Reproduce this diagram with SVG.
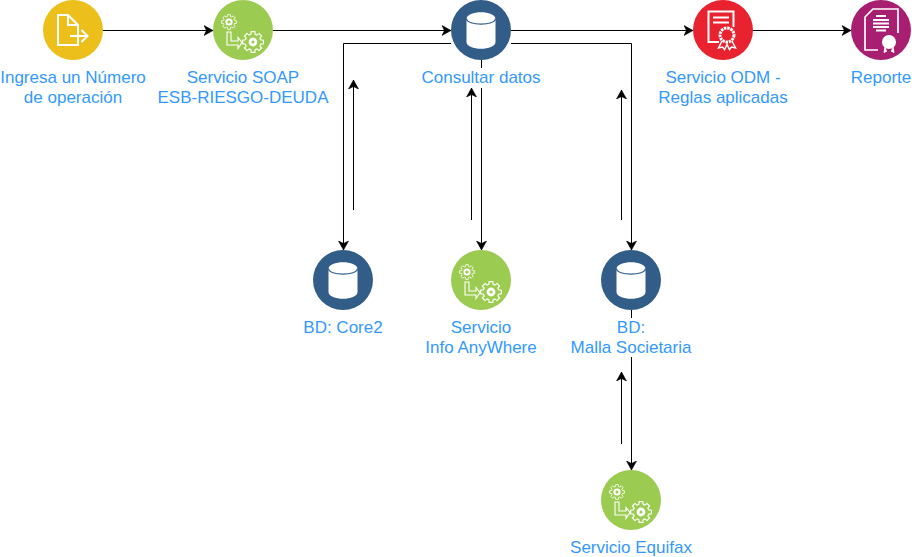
<svg xmlns="http://www.w3.org/2000/svg" xmlns:xlink="http://www.w3.org/1999/xlink" width="912" height="557" viewBox="0 0 912 557">
<style>
.c{fill:none;stroke:#000;stroke-width:1;marker-end:url(#a)}
.l{font:17px "Liberation Sans",Arial,sans-serif;fill:#3399ff;text-anchor:middle}
.w{fill:none;stroke:#fff;stroke-width:2}
.g{fill:none;stroke:#fff;stroke-width:1.1}
.db{fill:#325d88}
.sv{fill:#9ccb52}
</style>
<defs>
<marker id="a" markerUnits="userSpaceOnUse" markerWidth="11" markerHeight="12" refX="9" refY="5.500" orient="auto"><path d="M0 .5L9 5.500L0 10.500L2.500 5.500Z" fill="#000" stroke="#000" stroke-width=".6"/></marker>
<polygon id="gear" points="9.85,1.74 7.21,2.07 6.56,3.64 8.19,5.74 5.74,8.19 3.64,6.56 2.07,7.21 1.74,9.85 -1.74,9.85 -2.07,7.21 -3.64,6.56 -5.74,8.19 -8.19,5.74 -6.56,3.64 -7.21,2.07 -9.85,1.74 -9.85,-1.74 -7.21,-2.07 -6.56,-3.64 -8.19,-5.74 -5.74,-8.19 -3.64,-6.56 -2.07,-7.21 -1.74,-9.85 1.74,-9.85 2.07,-7.21 3.64,-6.56 5.74,-8.19 8.19,-5.74 6.56,-3.64 7.21,-2.07 9.85,-1.74"/>
<g id="service">
<circle r="30" class="sv"/>
<use href="#gear" class="g" transform="translate(-14 -8) scale(.75)"/>
<circle cx="-14" cy="-8" r="2.600" fill="none" stroke="#fff" stroke-width="2"/>
<use href="#gear" class="g" transform="translate(10 12) scale(1.050)"/>
<circle cx="10" cy="12" r="3" fill="none" stroke="#fff" stroke-width="2.800"/>
<path class="g" d="M-16 2V15H-5V18.500L-1 12.500L-5 7.500V11H-12V2Z"/>
</g>
<g id="database">
<circle r="30" class="db"/>
<path d="M-14.500-11C-14.500-20 14.500-20 14.500-11V12C14.500 21-14.500 21-14.500 12Z" fill="#fff"/>
<path d="M-14.500-11.500C-14.500-4 14.500-4 14.500-11.500" fill="none" stroke="#325d88" stroke-width="1.200"/>
</g>
</defs>
<rect width="912" height="557" fill="#fff"/>
<g id="connectors">
<path class="c" d="M103 30.500H213"/>
<path class="c" d="M273 30.500H451"/>
<path class="c" d="M511 30.500H693"/>
<path class="c" d="M753 30.500H851"/>
<path class="c" d="M451 43.500H343.500V250"/>
<path class="c" d="M511 43.500H631.500V250"/>
<path class="c" d="M481.500 60V68M481.500 88V250"/>
<path class="c" d="M353.500 210V80"/>
<path class="c" d="M471.500 220V88"/>
<path class="c" d="M621.500 220V90"/>
<path class="c" d="M621.500 444V372"/>
<path class="c" d="M631.500 310V318M631.500 357V470"/>
</g>
<g id="n-ingresa">
<circle cx="73" cy="30" r="30" fill="#ecbf1a"/>
<path class="w" d="M58 15H68L78 25V45H58Z M68 15V25H78"/>
<path class="w" d="M70 36H87M81.500 30L87.500 36L81.500 42" fill="none"/>
<text class="l" x="73" y="83">Ingresa un Número</text><text class="l" x="73" y="103">de operación</text>
</g>
<g id="n-soap">
<use href="#service" x="243" y="30"/>
<text class="l" x="243" y="83">Servicio SOAP</text><text class="l" x="243" y="103">ESB-RIESGO-DEUDA</text>
</g>
<g id="n-consultar">
<use href="#database" x="481" y="30"/>
<text class="l" x="481" y="83">Consultar datos</text>
</g>
<g id="n-odm">
<circle cx="723" cy="30" r="30" fill="#e9222f"/>
<path d="M719 42H708.500V11.500H733.500V27" fill="none" stroke="#fff" stroke-width="2"/>
<path d="M713 17.500H729M713 22.500H729" stroke="#fff" stroke-width="2"/>
<circle cx="727" cy="35" r="7" fill="none" stroke="#fff" stroke-width="3" stroke-dasharray="2.500 .8"/>
<path d="M722 41L718.500 48L722.500 47L724.500 49.500L727.500 43.500M732 41L735.500 48L731.500 47L729.500 49.500L726.500 43.500" fill="none" stroke="#fff" stroke-width="1.500"/>
<text class="l" x="723" y="83">Servicio ODM -</text><text class="l" x="723" y="103">Reglas aplicadas</text>
</g>
<g id="n-reporte">
<circle cx="881" cy="30" r="30" fill="#a81e70"/>
<path d="M878 50H865V17L873 9H898V33" fill="none" stroke="#fff" stroke-width="1.700"/>
<path d="M876 16H886M873 20H889M873 23.500H889M873 27H889M876 30.500H886" stroke="#fff" stroke-width="2"/>
<circle cx="889" cy="42" r="7" fill="#fff"/>
<path d="M885 47L884 52.500L887 51M893 47L894 52.500L891 51" fill="#fff" stroke="#fff"/>
<text class="l" x="881" y="83">Reporte</text>
</g>
<g id="n-core2">
<use href="#database" x="343" y="280"/>
<text class="l" x="343" y="333">BD: Core2</text>
</g>
<g id="n-info">
<use href="#service" x="481" y="280"/>
<text class="l" x="481" y="333">Servicio</text><text class="l" x="481" y="353">Info AnyWhere</text>
</g>
<g id="n-malla">
<use href="#database" x="631" y="280"/>
<text class="l" x="631" y="333">BD:</text><text class="l" x="631" y="353">Malla Societaria</text>
</g>
<g id="n-equifax">
<use href="#service" x="631" y="500"/>
<text class="l" x="631" y="553">Servicio Equifax</text>
</g>
</svg>
